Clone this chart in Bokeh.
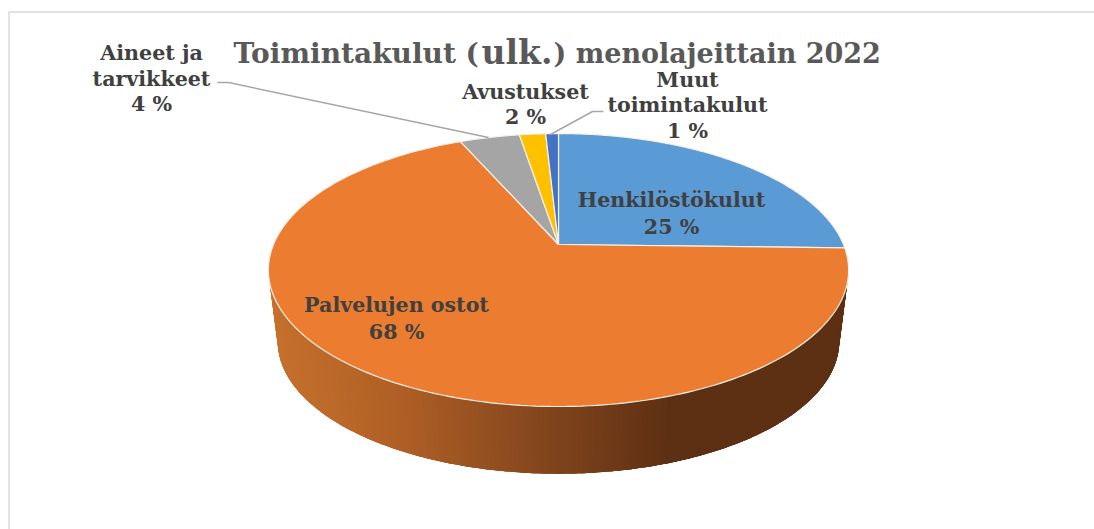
import numpy as np
from bokeh.plotting import figure
from bokeh.models import Range1d
from bokeh.core.properties import value
from bokeh.embed import file_html
from bokeh.resources import INLINE

# ---- data ----
categories = ["Henkilöstökulut", "Palvelujen ostot", "Aineet ja tarvikkeet", "Avustukset", "Muut toimintakulut"]
shares = [25.4, 68.0, 4.0, 1.75, 0.85]
share_labels = ["25 %", "68 %", "4 %", "2 %", "1 %"]
colors = ["#5B9BD5", "#EB7C30", "#A5A5A5", "#FFC000", "#4472C4"]
title_parts = ["Toimintakulut (", "ulk.", ") menolajeittain 2022"]

FONT = "DejaVu Serif"

# ---- geometry of the tilted pie, in page pixels ----
CX, CY = 558.0, 244.0          # the pie's centre point as seen
K, A, B = 0.187, 131.7, 285.0  # perspective of the disc
RIM_CY, RX, RY = 269.5, 290.0, 136.5
BOT_CY, BOT_S = 341.0, 0.968


def project(theta):
    u, v = np.sin(theta), np.cos(theta)
    d = 1 + K * v
    return CX + B * u / d, CY - A * v / d


p = figure(width=1094, height=529, x_range=Range1d(0, 1094), y_range=Range1d(529, 0),
           output_backend="svg", toolbar_location=None, min_border=0)
p.axis.visible = False
p.grid.visible = False
p.outline_line_color = None
p.background_fill_color = "white"

# chart frame
p.line([8.5, 8.5, 1094], [529, 11.5, 11.5], line_color="#D9D9D9", line_width=1.5)

# side wall, shaded from left to right; each band overlaps the next to hide seams
stops_x = [272, 400, 560, 670, 850]
stops_rgb = np.array([[199, 113, 46], [176, 96, 38], [126, 67, 28], [94, 48, 19], [94, 48, 19]])
phi = np.linspace(np.pi, 0, 181)
xt = CX + RX * np.cos(phi)
yt = RIM_CY + RY * np.sin(phi)
xb = CX + RX * BOT_S * np.cos(phi)
yb = BOT_CY + RY * BOT_S * np.sin(phi)
xs, ys, cs = [], [], []
for i in range(len(phi) - 1):
    j = min(i + 4, len(phi) - 1)
    xs.append(np.r_[xt[i:j + 1], xb[i:j + 1][::-1]])
    ys.append(np.r_[yt[i:j + 1], yb[i:j + 1][::-1]])
    mid = (xb[i] + xb[i + 1] + xt[i] + xt[i + 1]) / 4
    rgb = [int(np.interp(mid, stops_x, stops_rgb[:, c])) for c in range(3)]
    cs.append("#%02x%02x%02x" % tuple(rgb))
p.patches(xs, ys, fill_color=cs, line_color=None)

# top slices, clockwise from twelve o'clock
fractions = np.cumsum([0] + shares) / sum(shares) * 2 * np.pi
for i, col in enumerate(colors):
    th = np.linspace(fractions[i], fractions[i + 1], 200)
    x, y = project(th)
    p.patch(np.r_[CX, x], np.r_[CY, y], fill_color=col, line_color="#F7F1EA", line_width=1.2)

# leader lines
p.line([217, 228, 488], [82, 82, 137], line_color="#A6A6A6", line_width=1.5)
p.line([603, 592, 550], [111, 111, 134], line_color="#A6A6A6", line_width=1.5)


def label(x, y, txt, size="20.6px", color="#404040", align="center"):
    p.text([x], [y], text=[txt], text_font=value(FONT), text_font_style="bold",
           text_font_size=size, text_color=color, text_align=align, text_baseline="middle")


# title
label(233, 52.5, title_parts[0], "28px", "#595959", "left")
label(481, 52, title_parts[1], "33px", "#595959", "left")
label(553, 52.5, title_parts[2], "27px", "#595959", "left")

# data labels
label(151, 52, "Aineet ja")
label(151, 78, "tarvikkeet")
label(151, 103, share_labels[2])
label(525, 91, categories[3])
label(525, 116, share_labels[3])
label(687, 79, "Muut")
label(687, 104, "toimintakulut")
label(687, 130, share_labels[4])
label(671, 199, categories[0])
label(671, 226, share_labels[0])
label(396, 304, categories[1])
label(396, 331, share_labels[1])

open("out.html", "w").write(file_html(p, INLINE))
